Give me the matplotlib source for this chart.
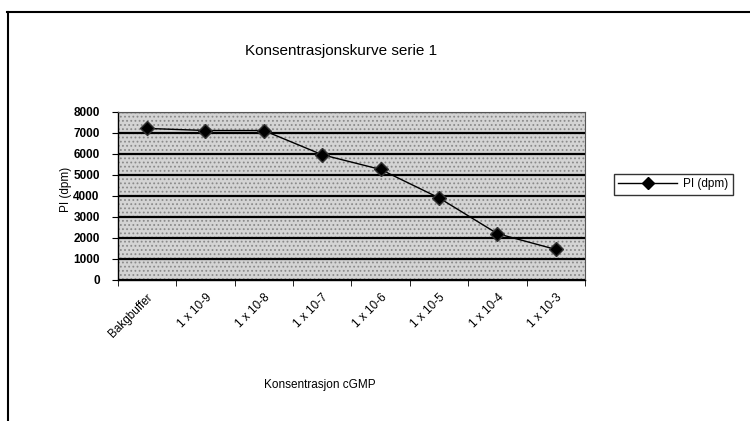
import matplotlib
matplotlib.use("Agg")
import matplotlib.pyplot as plt
import numpy as np
from matplotlib.lines import Line2D
from matplotlib.patches import Rectangle

plt.rcParams["font.family"] = ["Liberation Sans", "DejaVu Sans"]
plt.rcParams["hatch.color"] = "#8a8a8a"
plt.rcParams["hatch.linewidth"] = 0.8

# data
categories = ["Bakgbuffer", "1 x 10-9", "1 x 10-8", "1 x 10-7",
              "1 x 10-6", "1 x 10-5", "1 x 10-4", "1 x 10-3"]
pi_dpm = [7200, 7100, 7100, 5950, 5250, 3900, 2200, 1450]
y_ticks = [0, 1000, 2000, 3000, 4000, 5000, 6000, 7000, 8000]

fig = plt.figure(figsize=(7.5, 4.21), dpi=100)
ax = fig.add_axes([0.157, 0.335, 0.623, 0.400])

x = np.arange(len(categories))
ax.set_xlim(-0.5, len(categories) - 0.5)
ax.set_ylim(0, 8000)

# stippled grey plot area
ax.set_facecolor("#d4d4d4")
ax.add_patch(Rectangle((0, 0), 1, 1, transform=ax.transAxes, facecolor="none",
                       edgecolor="#8a8a8a", hatch="....", lw=0, zorder=0))

ax.set_yticks(y_ticks)
ax.set_yticklabels([str(v) for v in y_ticks], fontsize=8.5, fontweight="bold")
ax.yaxis.grid(True, color="black", lw=1.6)
ax.set_axisbelow(True)

ax.set_xticks(x)
ax.set_xticklabels(categories, rotation=45, ha="right", rotation_mode="anchor",
                   fontsize=8.5)
ax.set_xticks(np.arange(-0.5, len(categories)), minor=True)
ax.tick_params(axis="x", which="major", length=0, pad=8)
ax.tick_params(axis="x", which="minor", length=4, direction="out", color="black")
ax.tick_params(axis="y", length=4, direction="out", color="black", pad=9)

for s in ["top", "right"]:
    ax.spines[s].set_color("#555555")
    ax.spines[s].set_linewidth(0.8)
for s in ["left", "bottom"]:
    ax.spines[s].set_color("black")
    ax.spines[s].set_linewidth(1.0)

ax.plot(x, pi_dpm, color="black", lw=1.0, marker="D", markersize=7,
        markerfacecolor="black", markeredgecolor="#333333", label="PI (dpm)",
        zorder=3)

fig.text(0.455, 0.879, "Konsentrasjonskurve serie 1", ha="center", va="center",
         fontsize=11)
fig.text(0.427, 0.085, "Konsentrasjon cGMP", ha="center", va="center", fontsize=8.5)
fig.text(0.088, 0.55, "PI (dpm)", ha="center", va="center", rotation=90,
         fontsize=8.5)

leg = fig.legend(handles=[Line2D([0], [0], color="black", lw=1, marker="D",
                                 markersize=6, label="PI (dpm)")],
                 loc="center", bbox_to_anchor=(0.898, 0.562), fontsize=8.5,
                 frameon=True, fancybox=False, handlelength=5.0,
                 borderpad=0.4, handletextpad=0.5)
leg.get_frame().set_edgecolor("black")
leg.get_frame().set_linewidth(1.0)

# outer frame (top and left edge only, as in the scan)
fig.add_artist(Line2D([0.009, 1.0], [0.972, 0.972], color="black", lw=1.5,
                      transform=fig.transFigure))
fig.add_artist(Line2D([0.011, 0.011], [0.0, 0.972], color="black", lw=1.5,
                      transform=fig.transFigure))

fig.savefig("out.png", dpi=100)
